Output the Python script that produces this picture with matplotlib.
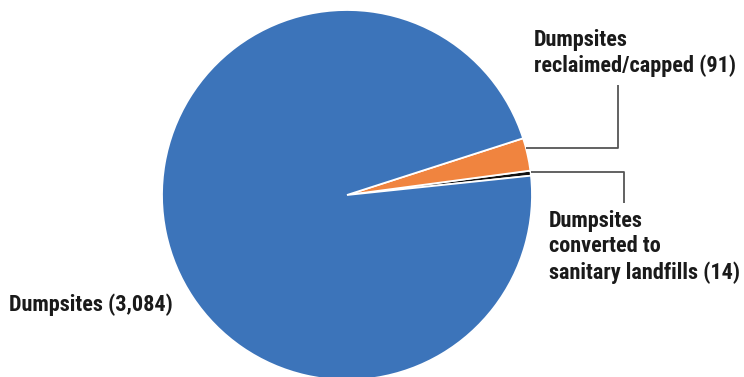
import numpy as np
import matplotlib
matplotlib.use("Agg")
import matplotlib.pyplot as plt

labels = ["Dumpsites\nconverted to\nsanitary landfills (14)",
          "Dumpsites\nreclaimed/capped (91)",
          "Dumpsites (3,084)"]
values = [14, 91, 3084]
colors = ["#111111", "#f0843f", "#3c74ba"]

W, H = 744, 377
fig = plt.figure(figsize=(W / 100, H / 100), dpi=100)
ax = fig.add_axes([0, 0, 1, 1])

cx, cy, r = 347, H - 195, 185
wedges, _ = ax.pie(values, colors=colors, startangle=6, counterclock=True,
                   center=(cx, cy), radius=r, frame=True,
                   wedgeprops=dict(edgecolor="white", linewidth=1.3))
ax.set_xlim(0, W)
ax.set_ylim(0, H)
ax.set_aspect("equal")
ax.axis("off")

font = dict(family=["Roboto Condensed", "DejaVu Sans"],
            weight="semibold", size=16, color="#1a1a1a", linespacing=1.2)

# leader lines: from the wedge rim out to the right, then up/down to the label
def leader(w, xend, yend):
    a = np.deg2rad(w.theta1 + 0.7 * (w.theta2 - w.theta1))
    x0, y0 = cx + r * np.cos(a), cy + r * np.sin(a)
    ax.plot([x0, xend, xend], [y0, y0, yend], color="#555555", lw=1.3,
            solid_capstyle="butt")

leader(wedges[1], 618, H - 85)
leader(wedges[0], 624, H - 203)

ax.text(534, H - 29, labels[1], va="top", ha="left", **font)
ax.text(549, H - 210, labels[0], va="top", ha="left", **font)
ax.text(9, H - 305, labels[2], va="center", ha="left", **font)

fig.savefig("out.png", dpi=100)
